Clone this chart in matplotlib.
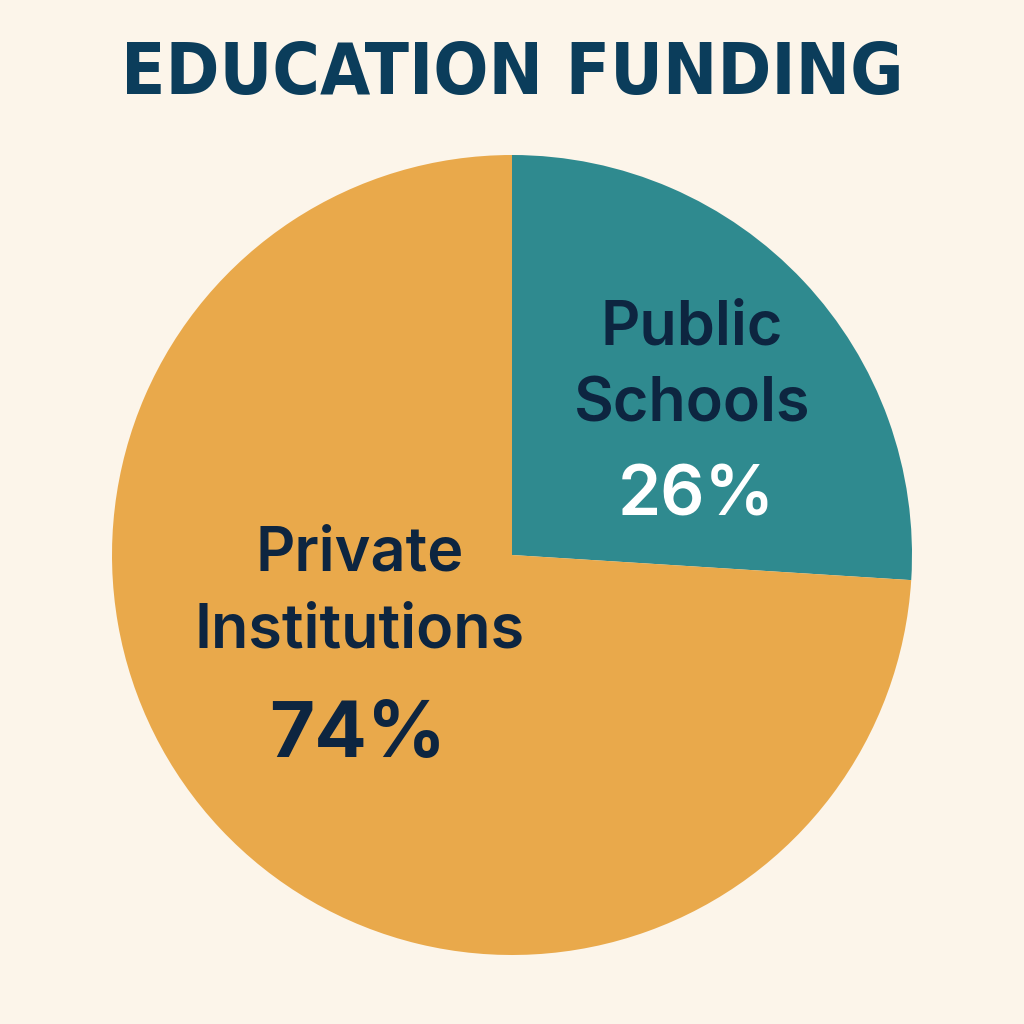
import matplotlib
matplotlib.use("Agg")
import matplotlib.pyplot as plt

# chart data
labels = ["Public\nSchools", "Private\nInstitutions"]
shares = [26, 74]
colours = ["#2F8A8F", "#E9A94B"]

BG = "#FCF5EA"
NAVY = "#0D2540"
TITLE_C = "#0B3D5B"

fig = plt.figure(figsize=(10.24, 10.24), dpi=100, facecolor=BG)
ax = fig.add_axes([112 / 1024, 69 / 1024, 800 / 1024, 800 / 1024])
ax.set_facecolor(BG)

wedges, _ = ax.pie(shares, colors=colours, startangle=90, counterclock=False,
                   radius=1.0, wedgeprops=dict(linewidth=0))
ax.set_xlim(-1, 1)
ax.set_ylim(-1, 1)
ax.set_aspect("equal")
ax.axis("off")

lab_font = ["Inter", "DejaVu Sans"]
# Public schools
ax.text(0.45, 0.47, labels[0], ha="center", va="center", fontsize=44,
        fontweight="semibold", color=NAVY, family=lab_font, linespacing=1.42)
ax.text(0.46, 0.145, f"{shares[0]}%", ha="center", va="center", fontsize=50,
        fontweight="semibold", color="white", family=lab_font)
# Private institutions
ax.text(-0.38, -0.095, labels[1], ha="center", va="center", fontsize=44,
        fontweight="semibold", color=NAVY, family=lab_font, linespacing=1.42)
ax.text(-0.385, -0.455, f"{shares[1]}%", ha="center", va="center", fontsize=56,
        fontweight="bold", color=NAVY, family=lab_font)

fig.text(0.5, 0.927, "EDUCATION FUNDING", ha="center", va="center", fontsize=52,
         fontweight="bold", fontstretch="condensed", color=TITLE_C,
         family=["DejaVu Sans"])

fig.savefig("out.png", dpi=100, facecolor=BG)
